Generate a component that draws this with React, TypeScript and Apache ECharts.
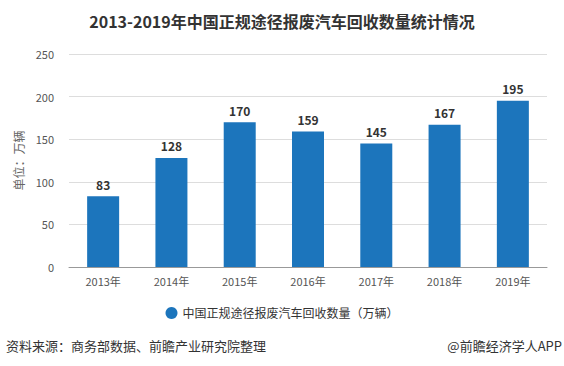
import React, { useEffect, useRef } from "react";
import * as echarts from "echarts";

const categories = ["2013年", "2014年", "2015年", "2016年", "2017年", "2018年", "2019年"];
const values = [83, 128, 170, 159, 145, 167, 195];
const seriesName = "中国正规途径报废汽车回收数量（万辆）";
const titleText = "2013-2019年中国正规途径报废汽车回收数量统计情况";
const sourceText = "资料来源：商务部数据、前瞻产业研究院整理";
const brandText = "@前瞻经济学人APP";

export default function App() {
  const ref = useRef<HTMLDivElement>(null);
  useEffect(() => {
    const chart = echarts.init(ref.current!, null, { renderer: "svg" });
    chart.setOption({
      animation: false,
      backgroundColor: "#ffffff",
      title: {
        text: titleText,
        left: "center",
        top: 8,
        textStyle: { fontSize: 16, fontWeight: "bold", color: "#333", fontFamily: "Noto Sans CJK SC" },
      },
      grid: { left: 69, right: 17, top: 54, bottom: 99 },
      legend: {
        bottom: 42,
        left: "center",
        icon: "circle",
        itemWidth: 12,
        itemHeight: 12,
        textStyle: { fontSize: 12, color: "#333", fontFamily: "Noto Sans CJK SC" },
        data: [seriesName],
      },
      xAxis: {
        type: "category",
        data: categories,
        axisTick: { alignWithLabel: true, lineStyle: { color: "#999" } },
        axisLine: { lineStyle: { color: "#999" } },
        axisLabel: { color: "#555", fontSize: 11, margin: 8, fontFamily: "Noto Sans CJK SC" },
      },
      yAxis: {
        type: "value",
        min: 0,
        max: 250,
        interval: 50,
        name: "单位：万辆",
        nameLocation: "middle",
        nameGap: 44,
        nameRotate: 90,
        nameTextStyle: { color: "#666", fontSize: 12, fontFamily: "Noto Sans CJK SC" },
        axisLine: { show: false },
        axisTick: { show: false },
        axisLabel: { color: "#555", fontSize: 11, margin: 15, fontFamily: "Noto Sans CJK SC" },
        splitLine: { lineStyle: { color: "#ddd" } },
      },
      series: [
        {
          name: seriesName,
          type: "bar",
          data: values,
          barWidth: 32,
          itemStyle: { color: "#1c75bc" },
          label: {
            show: true,
            position: "top",
            distance: 6,
            color: "#333",
            fontWeight: "bold",
            fontSize: 12,
            fontFamily: "Noto Sans CJK SC",
          },
        },
      ],
      graphic: [
        {
          type: "text",
          left: 6,
          top: 339,
          style: { text: sourceText, fill: "#333", fontSize: 13, fontFamily: "Noto Sans CJK SC" },
        },
        {
          type: "text",
          right: 2,
          top: 339,
          style: { text: brandText, fill: "#333", fontSize: 13, fontFamily: "Noto Sans CJK SC" },
        },
      ],
    });
    return () => chart.dispose();
  }, []);
  return <div ref={ref} style={{ position: "fixed", left: 0, top: 0, width: 564, height: 366 }} />;
}
